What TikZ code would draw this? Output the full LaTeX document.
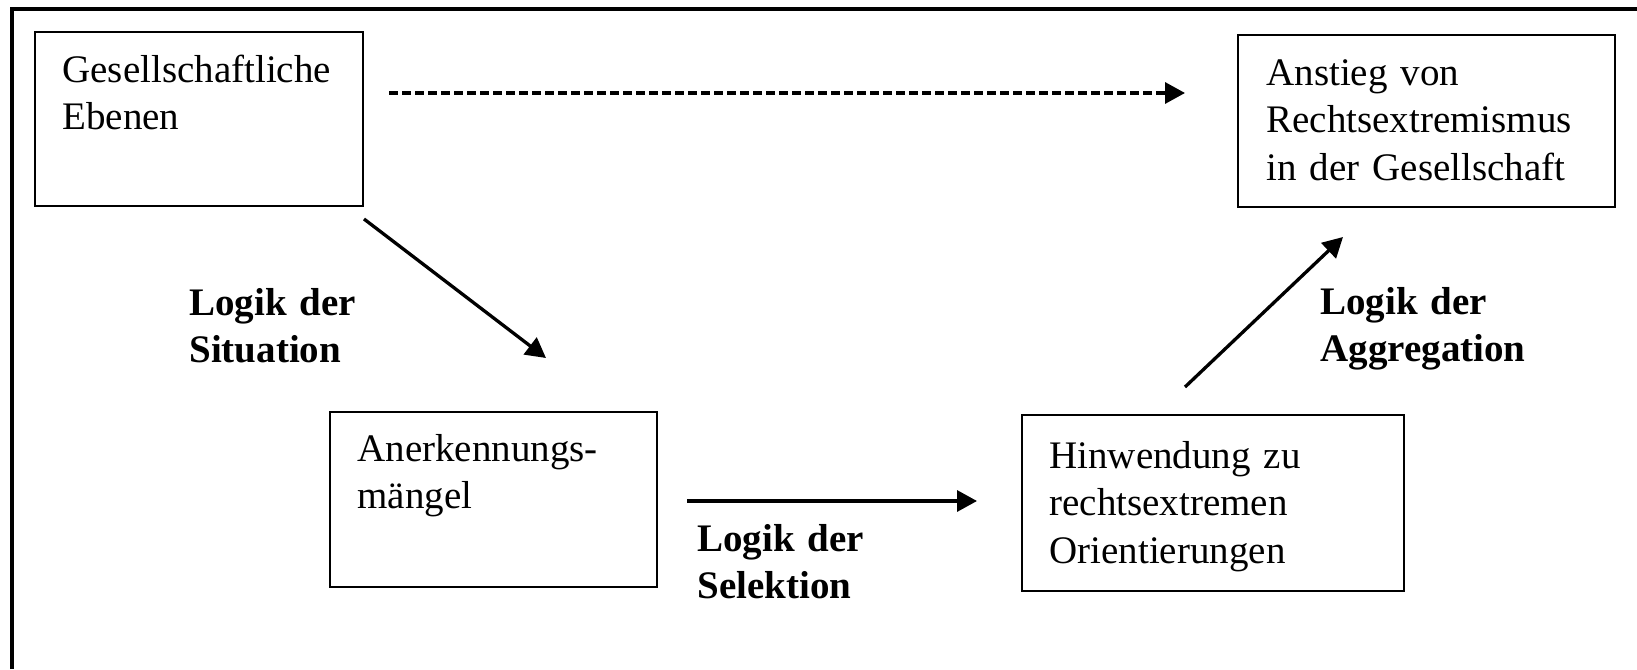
\documentclass[tikz,border=0pt]{standalone}
\usepackage{fontspec}
\setmainfont{Liberation Serif}
\usetikzlibrary{arrows.meta}

\begin{document}
\begin{tikzpicture}[x=0.5pt, y=-0.5pt,
    every node/.style={font=\fontsize{19.5}{23.75}\selectfont},
    box/.style={draw, line width=1.1pt, anchor=north west, inner sep=0pt},
    boxtext/.style={anchor=base west, inner sep=0pt, text width=170pt, align=left},
    logik/.style={anchor=base west, inner sep=0pt, text width=120pt, align=left,
      font=\fontsize{19.5}{23.75}\selectfont\bfseries},
    arr/.style={line width=1.65pt, -{Triangle[length=10pt, width=10.5pt]}}]
      \useasboundingbox (0,0) rectangle (1637,669);

      % Outer frame (only top and left edge)
      \draw[line width=2pt] (11.5,669) -- (11.5,8.5) -- (1637,8.5);

      % Boxes
      \node[box, minimum width=164pt, minimum height=87pt] (ges) at (34,31) {};
      \node[box, minimum width=188.5pt, minimum height=86pt] (anstieg) at (1237,34) {};
      \node[box, minimum width=163.5pt, minimum height=87.5pt] (anerk) at (329,411) {};
      \node[box, minimum width=191pt, minimum height=88pt] (hinw) at (1021,414) {};

      % Box texts
      \node[boxtext] (gestext) at ([xshift=14pt, yshift=-25.5pt]ges.north west) {Gesellschaftliche\\Ebenen};
      \node[boxtext] (anstiegtext) at ([xshift=14.5pt, yshift=-25.5pt]anstieg.north west) {Anstieg von\\Rechtsextremismus\\in der Gesellschaft};
      \node[boxtext] (anerktext) at ([xshift=14pt, yshift=-25pt]anerk.north west) {Anerkennungs-\\mängel};
      \node[boxtext] (hinwtext) at ([xshift=14pt, yshift=-27pt]hinw.north west) {Hinwendung zu\\rechtsextremen\\Orientierungen};

      % Arrow end points
      \coordinate (dash1) at (389,93);
      \coordinate (dash2) at (1185,93);
      \coordinate (sit1) at (364,219);
      \coordinate (sit2) at (546,358);
      \coordinate (sel1) at (687,501);
      \coordinate (sel2) at (977,501);
      \coordinate (agg1) at (1185,387);
      \coordinate (agg2) at (1343,237);

      % Arrows
      \draw[arr, dash pattern=on 4.5pt off 2pt] (dash1) -- (dash2);
      \draw[arr] (sit1) -- (sit2);
      \draw[arr] (sel1) -- (sel2);
      \draw[arr] (agg1) -- (agg2);

      % Labels of the arrows
      \node[logik] (sitlabel) at (189,315) {Logik der\\Situation};
      \node[logik] (sellabel) at (697,551) {Logik der\\Selektion};
      \node[logik] (agglabel) at (1320,314) {Logik der\\Aggregation};
    \end{tikzpicture}
\end{document}
